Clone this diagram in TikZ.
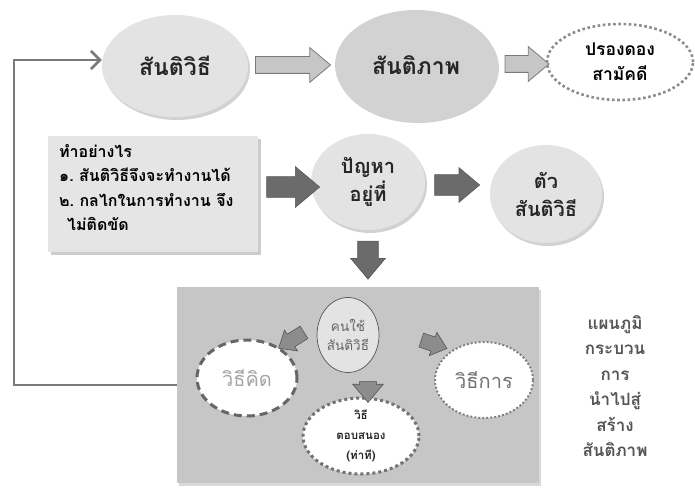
\documentclass[tikz,border=0pt]{standalone}
\usepackage{fontspec}
\setmainfont[Script=Thai]{Loma}
\usetikzlibrary{shapes,arrows.meta,positioning,shadows}
\definecolor{bubblegr}{HTML}{E3E3E3}
\definecolor{peacegr}{HTML}{D2D2D2}
\definecolor{boxgr}{HTML}{C6C6C6}
\definecolor{linegr}{HTML}{7A7A7A}
\definecolor{inkgr}{HTML}{555555}
\tikzset{
  bubble/.style={ellipse, inner sep=0pt, fill=bubblegr, align=center,
    drop shadow={opacity=.35, shadow xshift=2pt, shadow yshift=-3pt},
    font=\bfseries\fontsize{23}{26}\selectfont, text=black!85},
  midbubble/.style={bubble, font=\bfseries\fontsize{20}{28}\selectfont},
  ring/.style={ellipse, inner sep=0pt, fill=white, align=center},
  fat/.style={single arrow, inner sep=0pt, single arrow tip angle=80},
  lightarrow/.style={fat, fill=boxgr, draw=linegr, line width=.8pt},
  darkarrow/.style={fat, fill=black!58, draw=black!65, line width=.6pt},
  smallarrow/.style={fat, fill=black!45, draw=inkgr, line width=.6pt},
}
\begin{document}
\begin{tikzpicture}[x=1pt, y=-1pt]
  \useasboundingbox[fill=white] (0,0) rectangle (695,494);

  % top row
  \node[bubble, minimum width=146pt, minimum height=102pt] (sw) at (175,66) {สันติวิธี};
  \node[bubble, fill=peacegr, minimum width=162pt, minimum height=110pt] (peace) at (416,65) {สันติภาพ};
  \node[ring, draw=black!45, line width=2.6pt, dash pattern=on 2.6pt off 2.6pt,
        minimum width=146pt, minimum height=76pt,
        font=\bfseries\fontsize{17.5}{25}\selectfont] (unity) at (620,62) {ปรองดอง\\สามัคดี};
  \node[lightarrow, minimum height=75pt, inner ysep=8pt, single arrow head extend=9pt] (a1) at (288,65) {};
  \node[lightarrow, minimum height=44pt, inner ysep=8pt, single arrow head extend=9pt] (a2) at (522,64) {};

  % middle row
  \node[rectangle, fill=black!10, minimum width=210pt, minimum height=115pt,
        drop shadow={opacity=.4, shadow xshift=3pt, shadow yshift=-3pt}] (how) at (153,194) {};
  \node[anchor=north west, align=left, inner sep=0pt,
        font=\bfseries\fontsize{16}{24.5}\selectfont] (howtxt) at (59,144)
        {ทำอย่างไร\\๑.~สันติวิธีจึงจะทำงานได้\\๒.~กลไกในการทำงาน จึง\\\hspace*{8pt}ไม่ติดขัด};
  \node[midbubble, minimum width=114pt, minimum height=96pt] (prob) at (368,182) {ปัญหา\\อยู่ที่};
  \node[midbubble, minimum width=112pt, minimum height=98pt] (self) at (546,194) {ตัว\\สันติวิธี};
  \node[darkarrow, minimum height=53pt, inner ysep=10pt, single arrow head extend=10pt] (a3) at (287,187) {};
  \node[darkarrow, minimum height=45pt, inner ysep=10pt, single arrow head extend=7pt] (a4) at (451,185) {};
  \node[darkarrow, minimum height=38pt, inner ysep=10pt, single arrow head extend=7pt, rotate=-90] (a5) at (368,254) {};

  % bottom box
  \node[rectangle, fill=boxgr, minimum width=362pt, minimum height=196pt,
        drop shadow={opacity=.3, shadow xshift=2pt, shadow yshift=-3pt}] (box) at (358,385) {};
  \node[ellipse, inner sep=0pt, fill=bubblegr, draw=inkgr, line width=.7pt, align=center,
        minimum width=62pt, minimum height=75pt, text=black!60,
        font=\fontsize{13.5}{19}\selectfont] (user) at (348,335) {คนใช้\\สันติวิธี};
  \node[ring, draw=black!60, line width=3pt, dash pattern=on 8pt off 5pt,
        minimum width=100pt, minimum height=76pt, text=black!35,
        font=\fontsize{20}{22}\selectfont] (think) at (247,378) {วิธีคิด};
  \node[ring, draw=black!50, line width=2pt, dash pattern=on 2pt off 2pt,
        minimum width=98pt, minimum height=76pt, text=black!55,
        font=\fontsize{20}{22}\selectfont] (method) at (484,380) {วิธีการ};
  \node[ring, draw=black!55, line width=3pt, dash pattern=on 3pt off 3pt,
        minimum width=116pt, minimum height=76pt, text=black!85,
        font=\bfseries\fontsize{11.5}{20}\selectfont] (react) at (361,436) {วิธี\\ตอบสนอง\\(ท่าที)};
  \node[smallarrow, minimum height=30pt, inner ysep=7pt, single arrow head extend=5pt, rotate=212] (b1) at (295,338) {};
  \node[smallarrow, minimum height=27pt, inner ysep=7pt, single arrow head extend=5pt, rotate=-18] (b2) at (430,343) {};
  \node[smallarrow, minimum height=21pt, inner ysep=8pt, single arrow head extend=7pt, rotate=-90] (b3) at (368,387) {};

  % feedback loop
  \draw[linegr, line width=2.6pt, -{Straight Barb[length=9pt, width=18pt, line width=2.6pt]}]
    (box.west) -- ++(-163,0) |- ([yshift=6pt]sw.west);

  % side caption
  \node[align=center, text=inkgr, font=\bfseries\fontsize{17}{25.5}\selectfont] (caption) at (615,386)
    {แผนภูมิ\\กระบวน\\การ\\นำไปสู่\\สร้าง\\สันติภาพ};
\end{tikzpicture}
\end{document}
